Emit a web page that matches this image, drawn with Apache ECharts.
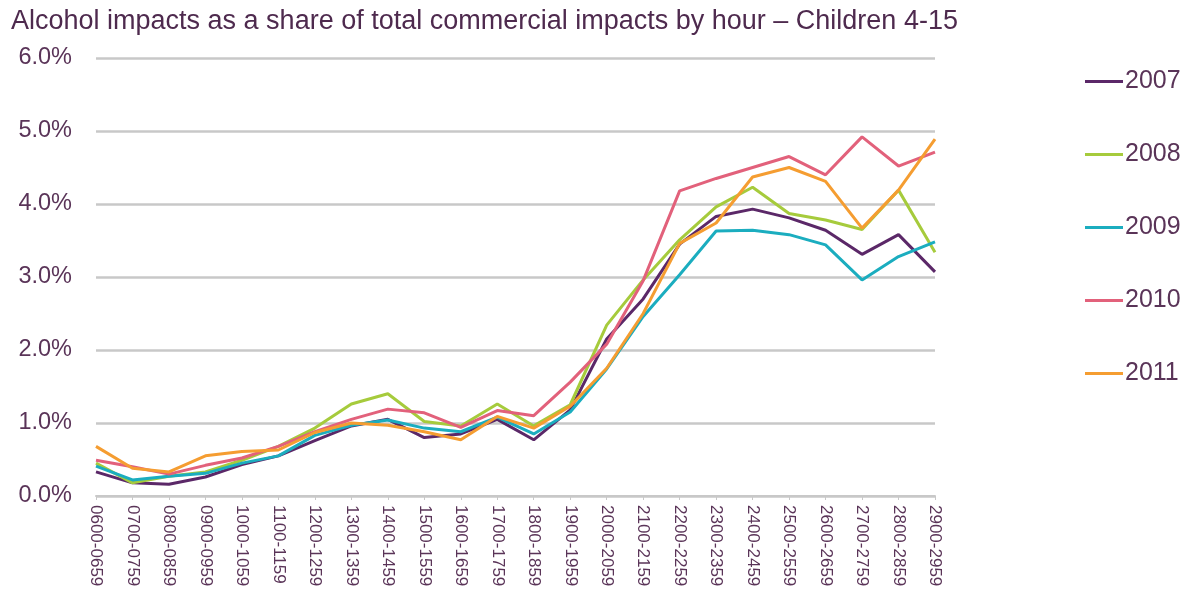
<!DOCTYPE html>
<html>
<head>
<meta charset="utf-8">
<script src="https://cdn.jsdelivr.net/npm/echarts@6/dist/echarts.min.js"></script>
<style>
  html, body { margin: 0; padding: 0; background: #ffffff; }
  #chart { width: 1188px; height: 590px; }
</style>
</head>
<body>
<div id="chart"></div>
<script>
// Hour bands (broadcast day runs past midnight as 2400+)
const hours = [
  '0600-0659', '0700-0759', '0800-0859', '0900-0959', '1000-1059', '1100-1159',
  '1200-1259', '1300-1359', '1400-1459', '1500-1559', '1600-1659', '1700-1759',
  '1800-1859', '1900-1959', '2000-2059', '2100-2159', '2200-2259', '2300-2359',
  '2400-2459', '2500-2559', '2600-2659', '2700-2759', '2800-2859', '2900-2959'
];

// Alcohol share of all commercial impacts, children 4-15 (%)
const y2007 = [0.33, 0.18, 0.16, 0.26, 0.43, 0.55, 0.76, 0.96, 1.05, 0.80, 0.85, 1.05,
               0.77, 1.18, 2.15, 2.70, 3.45, 3.83, 3.93, 3.81, 3.64, 3.31, 3.58, 3.07];
const y2008 = [0.45, 0.18, 0.27, 0.33, 0.49, 0.68, 0.93, 1.26, 1.40, 1.02, 0.96, 1.26,
               0.96, 1.25, 2.34, 2.96, 3.51, 3.96, 4.23, 3.87, 3.78, 3.65, 4.19, 3.34];
const y2009 = [0.41, 0.22, 0.27, 0.31, 0.45, 0.55, 0.83, 0.97, 1.04, 0.93, 0.88, 1.08,
               0.85, 1.15, 1.74, 2.46, 3.03, 3.63, 3.64, 3.58, 3.44, 2.96, 3.28, 3.48];
const y2010 = [0.49, 0.40, 0.30, 0.42, 0.52, 0.68, 0.88, 1.05, 1.19, 1.14, 0.94, 1.17,
               1.10, 1.56, 2.08, 2.95, 4.18, 4.35, 4.50, 4.65, 4.40, 4.92, 4.52, 4.71];
const y2011 = [0.68, 0.38, 0.33, 0.55, 0.61, 0.63, 0.87, 1.00, 0.97, 0.88, 0.77, 1.09,
               0.93, 1.23, 1.75, 2.50, 3.46, 3.74, 4.37, 4.50, 4.31, 3.67, 4.19, 4.89];

const yTicks = { min: 0, max: 6, step: 1 };

const years = [
  { name: '2007', data: y2007, color: '#5b2868' },
  { name: '2008', data: y2008, color: '#a6cb3c' },
  { name: '2009', data: y2009, color: '#1badbf' },
  { name: '2010', data: y2010, color: '#e2617b' },
  { name: '2011', data: y2011, color: '#f59d31' }
];

const textColor = '#5a3458';
const gridColor = '#c8c8c8';
const font = '"Liberation Sans", Arial, sans-serif';

const chart = echarts.init(document.getElementById('chart'), null, { renderer: 'canvas' });

chart.setOption({
  animation: false,
  backgroundColor: '#ffffff',
  textStyle: { fontFamily: font },
  title: {
    text: 'Alcohol impacts as a share of total commercial impacts by hour – Children 4-15',
    left: 6,
    top: 3,
    textStyle: { fontFamily: font, fontSize: 27, fontWeight: 'normal', color: '#4e2a4e' }
  },
  legend: {
    orient: 'vertical',
    left: 1080,
    top: 64,
    itemGap: 48,
    itemWidth: 38,
    itemHeight: 3,
    icon: 'rect',
    textStyle: { fontFamily: font, fontSize: 25, color: textColor, padding: [0, 0, 0, -3] },
    data: years.map(y => y.name)
  },
  grid: { left: 96, right: 253, top: 58, bottom: 94, containLabel: false },
  xAxis: {
    type: 'category',
    data: hours,
    boundaryGap: false,
    axisLine: { show: true, lineStyle: { color: gridColor, width: 2 } },
    axisTick: { show: true, alignWithLabel: true, length: 4, lineStyle: { color: gridColor, width: 1 } },
    axisLabel: {
      rotate: -90,
      interval: 0,
      margin: 9,
      fontFamily: font,
      fontSize: 17,
      color: textColor
    },
    splitLine: { show: false }
  },
  yAxis: {
    type: 'value',
    min: yTicks.min,
    max: yTicks.max,
    interval: yTicks.step,
    axisLine: { show: false },
    axisTick: { show: false },
    axisLabel: {
      margin: 24,
      fontFamily: font,
      fontSize: 23.5,
      color: textColor,
      formatter: v => v.toFixed(1) + '%'
    },
    splitLine: { show: true, lineStyle: { color: gridColor, width: 2.5 } }
  },
  series: years.map(y => ({
    name: y.name,
    type: 'line',
    data: y.data,
    symbol: 'none',
    smooth: false,
    lineStyle: { width: 3, color: y.color },
    itemStyle: { color: y.color },
    emphasis: { disabled: true }
  }))
});
</script>
</body>
</html>
